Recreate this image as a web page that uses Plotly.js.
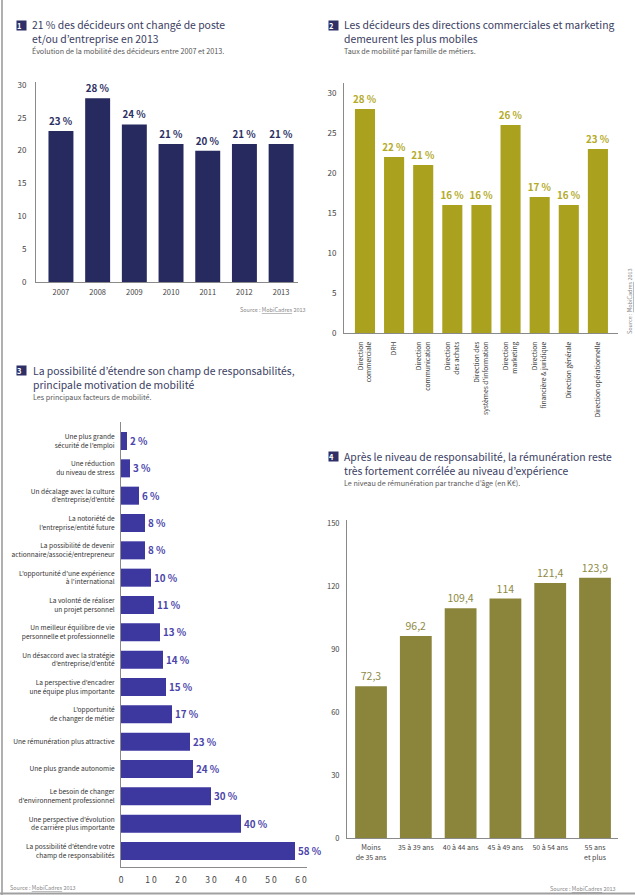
<!DOCTYPE html>
<html><head><meta charset="utf-8">
<script src="https://cdn.plot.ly/plotly-3.0.1.min.js"></script>
<style>html,body{margin:0;padding:0;background:#fff;}#chart{width:635px;height:895px;}</style>
</head><body><div id="chart"></div>
<script>
// ---- Data ----
const years = ['2007','2008','2009','2010','2011','2012','2013'];
const mobilityByYear = [23, 28, 24, 21, 20, 21, 21];

const jobFamilies = ['Direction<br>commerciale','DRH','Direction<br>communication','Direction<br>des achats','Direction des<br>systèmes d’information','Direction<br>marketing','Direction<br>financière & juridique','Direction générale','Direction opérationnelle'];
const mobilityByFamily = [28, 22, 21, 16, 16, 26, 17, 16, 23];

const factors = ['Une plus grande<br>sécurité de l’emploi','Une réduction<br>du niveau de stress','Un décalage avec la culture<br>d’entreprise/d’entité','La notoriété de<br>l’entreprise/entité future','La possibilité de devenir<br>actionnaire/associé/entrepreneur','L’opportunité d’une expérience<br>à l’international','La volonté de réaliser<br>un projet personnel','Un meilleur équilibre de vie<br>personnelle et professionnelle','Un désaccord avec la stratégie<br>d’entreprise/d’entité','La perspective d’encadrer<br>une équipe plus importante','L’opportunité<br>de changer de métier','Une rémunération plus attractive','Une plus grande autonomie','Le besoin de changer<br>d’environnement professionnel','Une perspective d’évolution<br>de carrière plus importante','La possibilité d’étendre votre<br>champ de responsabilités'];
const factorValues = [2, 3, 6, 8, 8, 10, 11, 13, 14, 15, 17, 23, 24, 30, 40, 58];
const factorTickVals = [0, 10, 20, 30, 40, 50, 60];
const factorTickText = ['0','1 0','2 0','3 0','4 0','5 0','6 0'];

const ageGroups = ['Moins<br>de 35 ans','35 à 39 ans','40 à 44 ans','45 à 49 ans','50 à 54 ans','55 ans<br>et plus'];
const salaryK = [72.3, 96.2, 109.4, 114, 121.4, 123.9];

// ---- Helpers ----
const W = 635, H = 895;
const px = x => x / W;
const py = y => 1 - y / H;
const F = "'Noto Sans CJK JP', 'Liberation Sans', Arial, sans-serif";
const AX = '#8a8a8a', TK = '#444';

const traces = [
  {type:'bar', x: years, y: mobilityByYear, xaxis:'x', yaxis:'y', width:0.68,
   marker:{color:'#262a5e'}, text: mobilityByYear.map(v => v + ' %'), textposition:'outside',
   constraintext:'none', cliponaxis:false, textfont:{family:F, size:9.8, color:'#2b2f63', weight:'bold'}, hoverinfo:'none'},
  {type:'bar', x: jobFamilies, y: mobilityByFamily, xaxis:'x2', yaxis:'y2', width:0.69,
   marker:{color:'#aaa21f'}, text: mobilityByFamily.map(v => v + ' %'), textposition:'outside',
   constraintext:'none', cliponaxis:false, textfont:{family:F, size:9.8, color:'#b4aa28', weight:'bold'}, hoverinfo:'none'},
  {type:'bar', orientation:'h', y: factors, x: factorValues, xaxis:'x3', yaxis:'y3', width:0.66,
   marker:{color:'#3d37a0'}, text: factorValues.map(v => v + ' %'), textposition:'outside',
   constraintext:'none', cliponaxis:false, textfont:{family:F, size:9.8, color:'#4b45aa', weight:'bold'}, hoverinfo:'none'},
  {type:'bar', x: ageGroups, y: salaryK, xaxis:'x4', yaxis:'y4', width:0.71,
   marker:{color:'#8b853c'}, text: salaryK.map(v => String(v).replace('.', ',')), textposition:'outside',
   constraintext:'none', cliponaxis:false, textfont:{family:F, size:10.5, color:'#8e8a45'}, hoverinfo:'none'}
];

const baseAx = {showgrid:false, zeroline:false, showline:true, linecolor:AX, linewidth:1, ticks:'', fixedrange:true,
  tickfont:{family:F, size:7.5, color:TK}};
const yTickFont = {family:F, size:8, color:TK};

const layout = {
  width: W, height: H, margin:{l:0, r:0, t:0, b:0}, paper_bgcolor:'#fff', plot_bgcolor:'rgba(0,0,0,0)',
  showlegend:false, bargap:0.3, font:{family:F},
  xaxis: Object.assign({}, baseAx, {domain:[px(36), px(298)], anchor:'y', range:[-0.68, 6.46], type:'category', tickangle:0, ticklabelstandoff:3}),
  yaxis: Object.assign({}, baseAx, {domain:[py(282), py(82.4)], anchor:'x', range:[0, 30.4], tickvals:[0,5,10,15,20,25,30], ticklabelstandoff:7, tickfont:yTickFont}),
  xaxis2: Object.assign({}, baseAx, {domain:[px(344), px(618)], anchor:'y2', range:[-0.72, 8.69], type:'category', tickangle:-90, ticklabelstandoff:5, tickfont:{family:F, size:6.7, color:TK}}),
  yaxis2: Object.assign({}, baseAx, {domain:[py(333), py(83)], anchor:'x2', range:[0, 31.25], tickvals:[0,5,10,15,20,25,30], ticklabelstandoff:5, tickfont:yTickFont}),
  xaxis3: Object.assign({}, baseAx, {domain:[px(121), px(307)], anchor:'y3', range:[0, 62], tickvals: factorTickVals, ticktext: factorTickText, ticklabelstandoff:5, tickfont:{family:F, size:8.5, color:TK}}),
  yaxis3: Object.assign({}, baseAx, {domain:[py(867), py(422)], anchor:'x3', type:'category', range:[15.585, -0.695], ticklabelstandoff:4, tickfont:{family:F, size:6.6, color:'#333'}}),
  xaxis4: Object.assign({}, baseAx, {domain:[px(347), px(618)], anchor:'y4', range:[-0.536, 5.513], type:'category', tickangle:0, ticklabelstandoff:3, tickfont:{family:F, size:7, color:TK}}),
  yaxis4: Object.assign({}, baseAx, {domain:[py(838), py(520)], anchor:'x4', range:[0, 151.43], tickvals:[0,30,60,90,120,150], ticklabelstandoff:5, tickfont:{family:F, size:7.5, color:TK}}),
  shapes: [
    {type:'line', xref:'paper', yref:'paper', x0:px(2), x1:px(2), y0:0, y1:1, line:{color:'#b0b0b0', width:2}},
    {type:'line', xref:'paper', yref:'paper', x0:0, x1:1, y0:py(893.5), y1:py(893.5), line:{color:'#a0a0a0', width:2}}
  ],
  annotations: []
};

function ann(text, x, y, opts) {
  layout.annotations.push(Object.assign({text, x:px(x), y:py(y), xref:'paper', yref:'paper', showarrow:false,
    xanchor:'left', yanchor:'middle', align:'left', font:{family:F, size:10.4, color:'#3a3d62'}}, opts || {}));
}
function marker(n, x, y) {
  ann('<b>' + n + '</b>', x, y, {xanchor:'center', bgcolor:'#2d2f66', width:9, height:9, borderpad:0,
    font:{family:F, size:7.5, color:'#fff'}});
}
const subFont = {family:F, size:7.2, color:'#555'};
const srcText = 'Source : <span style="text-decoration:underline;text-decoration-color:#e07020">MobiCadres</span> 2013';
const srcFont = {family:F, size:5.5, color:'#888'};

// Chart 1
marker('1', 21.5, 25);
ann('21 % des décideurs ont changé de poste<br>et/ou d’entreprise en 2013', 30, 31.5);
ann('Évolution de la mobilité des décideurs entre 2007 et 2013.', 30, 51, {font:subFont});
ann(srcText, 308, 310, {xanchor:'right', font:srcFont});

// Chart 2
marker('2', 333, 25);
ann('Les décideurs des directions commerciales et marketing<br>demeurent les plus mobiles', 342, 31.5);
ann('Taux de mobilité par famille de métiers.', 342, 51, {font:subFont});
ann(srcText, 630, 301, {xanchor:'center', textangle:-90, font:srcFont});

// Chart 3
marker('3', 21.5, 371);
ann('La possibilité d’étendre son champ de responsabilités,<br>principale motivation de mobilité', 31, 377.5);
ann('Les principaux facteurs de mobilité.', 31, 397, {font:subFont});
ann(srcText, 8, 888, {font:srcFont});

// Chart 4
marker('4', 333, 457);
ann('Après le niveau de responsabilité, la rémunération reste<br>très fortement corrélée au niveau d’expérience', 342, 463.5);
ann('Le niveau de rémunération par tranche d’âge (en K€).', 342, 483, {font:subFont});
ann(srcText, 618, 889, {xanchor:'right', font:srcFont});

Plotly.newPlot('chart', traces, layout, {displayModeBar:false, staticPlot:true});
</script>
</body></html>
